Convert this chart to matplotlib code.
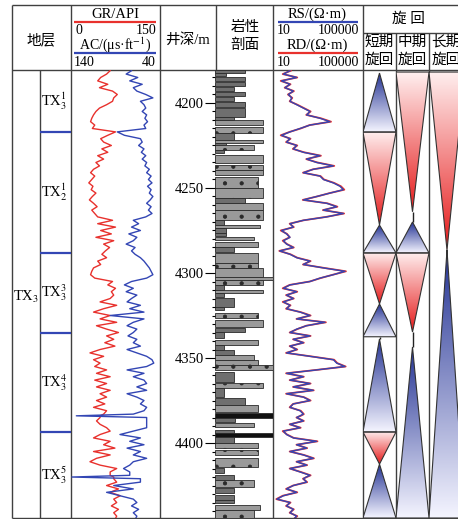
import numpy as np
import matplotlib
matplotlib.use("Agg")
import matplotlib.pyplot as plt
from matplotlib.patches import Polygon
from matplotlib.ticker import MultipleLocator

plt.rcParams['font.family'] = ['Liberation Serif', 'Noto Sans CJK SC']
plt.rcParams['mathtext.fontset'] = 'stix'
plt.rcParams['hatch.linewidth'] = 0.6

W, H = 458, 519
TOP, BOT = 4180.6, 4444.1   # depth at top / bottom of the log body

# ---- log curves ----
depth_log = [4181, 4183, 4185, 4187, 4189, 4191, 4193, 4195, 4197, 4199,
             4201, 4203, 4205, 4207, 4209, 4211, 4213, 4215, 4217, 4219,
             4221, 4223, 4225, 4227, 4229, 4231, 4233, 4235, 4237, 4239,
             4241, 4243, 4245, 4247, 4249, 4251, 4253, 4255, 4257, 4259,
             4261, 4263, 4265, 4267, 4269, 4271, 4273, 4275, 4277, 4279,
             4281, 4283, 4285, 4287, 4289, 4291, 4293, 4295, 4297, 4299,
             4301, 4303, 4305, 4307, 4309, 4311, 4313, 4315, 4317, 4319,
             4321, 4323, 4325, 4327, 4329, 4331, 4333, 4335, 4337, 4339,
             4341, 4343, 4345, 4347, 4349, 4351, 4353, 4355, 4357, 4359,
             4361, 4363, 4365, 4367, 4369, 4371, 4373, 4375, 4377, 4379,
             4381, 4383, 4384, 4385, 4387, 4389, 4391, 4393, 4395, 4397, 4399,
             4401, 4403, 4405, 4407, 4409, 4411, 4413, 4415, 4417, 4419, 4420,
             4421, 4423, 4425, 4427, 4429, 4431, 4433, 4435, 4437, 4439,
             4441, 4443, 4445]

gr = [66, 60, 50, 45, 62, 48, 70, 78, 72, 70,
      60, 48, 42, 38, 35, 33, 40, 36, 75, 62,
      50, 55, 68, 52, 62, 45, 55, 42, 48, 38,
      33, 40, 35, 30, 37, 34, 42, 36, 31, 38,
      44, 35, 40, 45, 70, 45, 75, 50, 68, 42,
      72, 55, 65, 58, 52, 60, 45, 50, 38, 35,
      33, 40, 70, 62, 75, 68, 72, 66, 49, 77,
      55, 38, 66, 49, 77, 43, 60, 80, 60, 72,
      57, 74, 49, 32, 55, 38, 49, 40, 60, 43,
      66, 40, 60, 43, 66, 49, 60, 43, 57, 38,
      60, 55, 49, 49, 43, 49, 60, 66, 49, 38, 66,
      55, 74, 38, 66, 43, 32, 49, 77, 66, 66, 72,
      72, 77, 60, 80, 66, 83, 72, 77, 68, 80,
      72, 77, 74]

ac = [72, 78, 65, 74, 60, 70, 66, 56, 48, 62,
      58, 56, 60, 55, 57, 54, 58, 56, 88, 80,
      62, 60, 64, 58, 61, 56, 60, 55, 57, 52,
      55, 50, 53, 49, 54, 50, 52, 48, 51, 55,
      50, 53, 49, 56, 70, 64, 72, 62, 75, 66,
      70, 78, 68, 72, 68, 62, 58, 55, 52, 50,
      48, 55, 72, 80, 70, 78, 66, 72, 77, 62,
      74, 58, 96, 58, 70, 77, 66, 70, 76, 66,
      70, 62, 77, 66, 55, 49, 47, 55, 77, 58,
      70, 58, 55, 66, 55, 77, 66, 58, 62, 55,
      58, 70, 134, 55, 55, 55, 55, 70, 85, 62, 74,
      58, 77, 62, 70, 55, 70, 74, 81, 74, 74, 139,
      62, 62, 92, 70, 100, 85, 70, 66, 72, 64,
      70, 66, 68]

rs = [57, 29, 113, 24, 57, 34, 80, 48, 68, 57,
      113, 223, 441, 313, 1230, 3410, 441, 160, 57, 24,
      57, 40, 113, 80, 223, 1230, 313, 873, 4800, 620,
      223, 1230, 1730, 4800, 9500, 13370, 3410, 873, 223, 2430,
      6760, 1730, 13370, 2430, 223, 57, 80, 24, 40, 57,
      29, 40, 80, 20, 57, 113, 441, 223, 1730, 15850,
      4800, 1230, 441, 57, 29, 113, 40, 80, 29, 57,
      40, 160, 441, 113, 2050, 313, 113, 57, 441, 80,
      223, 57, 113, 40, 441, 4800, 6760, 15850, 873, 40,
      223, 57, 441, 80, 620, 40, 223, 441, 80, 57,
      160, 223, 160, 113, 223, 57, 160, 29, 40, 80, 873,
      113, 313, 57, 223, 620, 113, 313, 57, 160, 441, 300,
      223, 313, 80, 40, 113, 29, 15, 57, 40, 80,
      57, 113, 80]

rd = [62, 27, 120, 22, 60, 33, 85, 46, 72, 55,
      120, 240, 470, 300, 1350, 3800, 420, 170, 55, 22,
      60, 38, 120, 76, 240, 1350, 300, 950, 5300, 600,
      215, 1300, 1850, 5200, 10500, 14800, 3300, 900, 210, 2600,
      7300, 1650, 14500, 2300, 230, 55, 84, 22, 42, 55,
      27, 42, 84, 19, 60, 120, 470, 215, 1850, 17500,
      4600, 1300, 430, 55, 27, 120, 38, 84, 27, 60,
      38, 170, 470, 110, 2250, 300, 120, 55, 470, 78,
      235, 55, 120, 38, 470, 5200, 7200, 17000, 850, 38,
      235, 55, 470, 78, 650, 38, 235, 470, 78, 55,
      170, 235, 170, 110, 235, 55, 170, 27, 42, 84, 950,
      110, 330, 55, 235, 660, 110, 330, 55, 170, 470, 320,
      215, 330, 78, 38, 120, 27, 14, 60, 38, 84,
      55, 120, 78]

# ---- lithology column: bed top, bed base, grain-size width (0..1) ----
lith_top = [4180.6, 4182.6, 4184.5, 4187.5, 4190.4, 4193.3, 4196.3, 4199.2, 4203.1, 4208.0,
            4210.0, 4214.0, 4217.9, 4221.8, 4223.7, 4224.7, 4227.6, 4230.6, 4236.5, 4239.4,
            4243.3, 4250.2, 4256.1, 4259.0, 4262.9, 4268.8, 4271.7, 4273.7, 4276.6, 4278.6,
            4281.5, 4284.5, 4288.4, 4294.3, 4297.2, 4302.1, 4304.1, 4307.0,
            4310.0, 4312.0, 4314.9, 4319.8, 4323.7, 4327.6, 4332.5, 4334.5, 4339.4, 4342.4,
            4345.3, 4348.2, 4351.2, 4354.1, 4358.0, 4364.9, 4367.8, 4373.7, 4377.6, 4382.5,
            4385.5, 4388.4, 4392.4, 4394.3, 4396.3, 4400.2, 4404.1, 4409.0, 4414.9, 4418.8,
            4421.8, 4426.7, 4430.6, 4433.5, 4436.5, 4439.4]
lith_base = [4182.4, 4184.3, 4187.3, 4190.2, 4193.1, 4196.1, 4199.0, 4202.2, 4208.0, 4210.0,
             4213.0, 4217.9, 4221.6, 4223.7, 4224.7, 4227.6, 4229.6, 4235.5, 4239.2, 4242.3,
             4250.0, 4256.1, 4259.0, 4262.9, 4268.8, 4271.5, 4273.7, 4276.4, 4278.4, 4280.6,
             4284.5, 4287.4, 4294.3, 4297.0, 4302.1, 4304.1, 4307.0, 4310.0,
             4312.0, 4314.0, 4319.8, 4321.8, 4326.7, 4331.6, 4334.5, 4338.4, 4342.4, 4345.3,
             4348.2, 4351.2, 4354.1, 4357.1, 4363.9, 4367.8, 4372.7, 4377.6, 4381.6, 4385.5,
             4387.5, 4390.4, 4394.3, 4396.3, 4400.2, 4403.1, 4407.1, 4413.9, 4417.8, 4421.8,
             4425.7, 4429.6, 4433.5, 4435.5, 4439.4, 4444.3]
lith_width = [.51, .19, .51, .51, .33, .51, .33, .51, .51, .33,
              .82, .82, .33, .82, .19, .68, .16, .82, .82, .82,
              .74, .82, .51, .82, .82, .16, .77, .19, .19, .68,
              .74, .33, .74, .74, .82, 1.0, .82, .16,
              .82, .16, .33, .16, .74, .82, .51, .16, .74, .16,
              .33, .68, .74, 1.0, .33, .82, .16, .51, .74, 1.0,
              .35, .68, .33, 1.0, .33, .74, .74, .74, .16, .33,
              .68, .33, .33, .33, .77, .68]
coal_tops = [4382.5, 4394.3]

# ---- stratigraphic units ----
unit_bounds = [4180.6, 4217.1, 4288.2, 4335.3, 4393.5, 4444.1]
unit_names = [r'TX$_3^1$', r'TX$_2^1$', r'TX$_3^3$', r'TX$_3^4$', r'TX$_3^5$']

# ---- cycles: 'up' = blue, apex on top; 'down' = red, apex at bottom ----
short_top = [4182.4, 4217.1, 4271.8, 4288.2, 4318.2, 4338.8, 4393.5, 4412.4]
short_base = [4217.1, 4271.8, 4288.2, 4318.2, 4337.5, 4393.5, 4412.4, 4444.1]
short_kind = ['up', 'down', 'up', 'down', 'up', 'up', 'down', 'up']
mid_top = [4181.8, 4270.0, 4288.2, 4343.5]
mid_base = [4264.0, 4288.2, 4334.7, 4444.1]
mid_kind = ['down', 'up', 'down', 'up']
long_top = [4181.8, 4286.5]
long_base = [4286.5, 4444.1]
long_kind = ['down', 'up']

RED = '#e8312d'
BLUE = '#3346b4'
LINE = '#404040'

fig = plt.figure(figsize=(W / 100, H / 100), dpi=100)

# frame / header in pixel coordinates
bg = fig.add_axes([0, 0, 1, 1], zorder=-1)
bg.set_xlim(0, W)
bg.set_ylim(H, 0)
bg.axis('off')
frame = dict(color=LINE, lw=1.0)
bg.hlines([5, 70, 518], 12, 470, **frame)
bg.vlines([12, 71, 160, 273, 363], 5, 518, **frame)
bg.vlines(40, 70, 518, **frame)
bg.vlines(216, 5, 70, **frame)
bg.vlines([396, 429], 33, 518, **frame)
bg.hlines(33, 363, 470, **frame)

fs = 10.5
bg.text(41.5, 40, '地层', ha='center', va='center', fontsize=fs)
bg.text(115, 14, 'GR/API', ha='center', va='center', fontsize=fs)
bg.hlines(22, 74, 156, color=RED, lw=1.6)
bg.text(75, 30, '0', ha='left', va='center', fontsize=10)
bg.text(156, 30, '150', ha='right', va='center', fontsize=10)
bg.text(115, 45, r'AC/(μs·ft$^{-1}$)', ha='center', va='center', fontsize=10)
bg.hlines(53, 74, 156, color=BLUE, lw=1.6)
bg.text(74, 63, '140', ha='left', va='center', fontsize=10)
bg.text(156, 63, '40', ha='right', va='center', fontsize=10)
bg.text(188, 40, '井深/m', ha='center', va='center', fontsize=fs)
bg.text(245, 28, '岩性', ha='center', va='center', fontsize=fs)
bg.text(245, 45, '剖面', ha='center', va='center', fontsize=fs)
bg.text(317, 14, 'RS/(Ω·m)', ha='center', va='center', fontsize=fs)
bg.hlines(22, 278, 358, color=BLUE, lw=1.6)
bg.text(277, 31, '10', ha='left', va='center', fontsize=10)
bg.text(359, 31, '100000', ha='right', va='center', fontsize=10)
bg.text(317, 45, 'RD/(Ω·m)', ha='center', va='center', fontsize=fs)
bg.hlines(53, 278, 358, color=RED, lw=1.6)
bg.text(277, 63, '10', ha='left', va='center', fontsize=10)
bg.text(359, 63, '100000', ha='right', va='center', fontsize=10)
bg.text(408, 19, '旋 回', ha='center', va='center', fontsize=fs)
for xc, word in zip([379.5, 412.5, 446], ['短期', '中期', '长期']):
    bg.text(xc, 42, word, ha='center', va='center', fontsize=fs)
    bg.text(xc, 60, '旋回', ha='center', va='center', fontsize=fs)


def track(x0, x1, y0=70, y1=518):
    ax = fig.add_axes([x0 / W, 1 - y1 / H, (x1 - x0) / W, (y1 - y0) / H])
    ax.patch.set_alpha(0)
    for s in ax.spines.values():
        s.set_visible(False)
    ax.set_xticks([])
    ax.set_yticks([])
    return ax


# stratigraphy
ax_u = track(40, 71)
ax_u.set_xlim(0, 1)
ax_u.hlines(unit_bounds[1:-1], 0, 1, color=BLUE, lw=1.6)
for i, name in enumerate(unit_names):
    ax_u.text(0.45, (unit_bounds[i] + unit_bounds[i + 1]) / 2, name,
              ha='center', va='center', fontsize=fs)
ax_u.set_ylim(BOT, TOP)
bg.text(26, 297, r'TX$_3$', ha='center', va='center', fontsize=fs)

# GR / AC
ax_gr = track(71, 160)
ax_gr.plot(gr, depth_log, color=RED, lw=1.0)
ax_gr.set_xlim(0, 150)
ax_gr.set_ylim(BOT, TOP)
ax_ac = ax_gr.twiny()
ax_ac.plot(ac, depth_log, color=BLUE, lw=1.0)
ax_ac.set_xlim(140, 40)
ax_ac.set_xticks([])
for s in ax_ac.spines.values():
    s.set_visible(False)

# lithology + depth scale
ax_l = track(215, 273)
for top, base, w in zip(lith_top, lith_base, lith_width):
    if top in coal_tops:
        fc, hatch = '#111111', None
    elif w >= 0.6:
        fc, hatch = '#9a9a9a', '.'
    else:
        fc, hatch = '#6f6f6f', None
    ax_l.barh((top + base) / 2, w, height=base - top, left=0, color=fc,
              edgecolor='#2a2a2a', lw=0.6, hatch=hatch)
ax_l.set_xlim(0, 1)
ax_l.set_ylim(BOT, TOP)
ax_l.yaxis.set_major_locator(MultipleLocator(50))
ax_l.yaxis.set_minor_locator(MultipleLocator(5))
ax_l.tick_params(axis='y', which='major', direction='out', length=7, width=0.8,
                 pad=1, labelsize=fs)
ax_l.tick_params(axis='y', which='minor', direction='out', length=2.5, width=0.8)

# RS / RD
ax_r = track(273, 363)
ax_r.plot(rd, depth_log, color=RED, lw=1.3)
ax_r.plot(rs, depth_log, color=BLUE, lw=1.0)
ax_r.set_xscale('log')
ax_r.set_xlim(10, 1e5)
ax_r.set_xticks([])
ax_r.minorticks_off()
ax_r.set_ylim(BOT, TOP)


def draw_cycles(ax, tops, bases, kinds):
    for top, base, kind in zip(tops, bases, kinds):
        ramp = np.linspace(0, 1, 200)[:, None]
        if kind == 'up':
            pts = [(0.5, top), (1, base), (0, base)]
            c0 = np.array([0.14, 0.2, 0.58])
            c1 = np.array([0.96, 0.96, 1.0])
            rgb = c0 + (c1 - c0) * ramp
        else:
            pts = [(0, top), (1, top), (0.5, base)]
            c0 = np.array([1.0, 0.94, 0.94])
            c1 = np.array([0.9, 0.1, 0.1])
            rgb = c0 + (c1 - c0) * ramp
        img = ax.imshow(rgb[:, None, :], extent=(0, 1, base, top), origin='upper',
                        aspect='auto', interpolation='bilinear')
        tri = Polygon(pts, closed=True, fc='none', ec='#333333', lw=0.8)
        ax.add_patch(tri)
        img.set_clip_path(tri)
    for i in range(len(tops) - 1):
        if tops[i + 1] > bases[i]:
            ax.vlines(0.5, bases[i], tops[i + 1], color='#222222', lw=1.0)
    ax.set_xlim(0, 1)
    ax.set_ylim(BOT, TOP)


draw_cycles(track(363, 396), short_top, short_base, short_kind)
draw_cycles(track(396, 429), mid_top, mid_base, mid_kind)
draw_cycles(track(429, 465), long_top, long_base, long_kind)

fig.savefig('out.png', dpi=100)
